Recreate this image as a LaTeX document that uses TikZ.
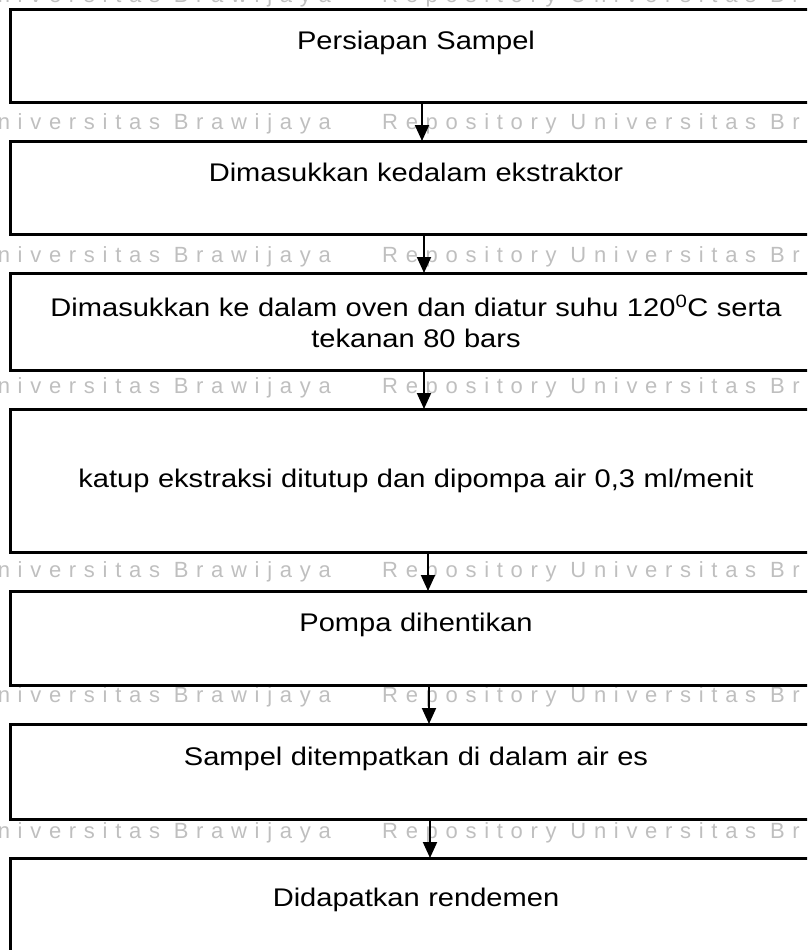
\documentclass[tikz,border=0pt]{standalone}
\usepackage{fontspec}
\setmainfont{Liberation Sans}[FakeStretch=1.14]
\newfontfamily\markfont{Liberation Sans}[LetterSpace=35]
\usetikzlibrary{arrows.meta,positioning}

\tikzset{
  stepbox/.style={draw, line width=3pt, fill=white, outer sep=0pt, inner sep=0pt,
    minimum width=812pt, text width=790pt, align=center,
    font=\fontsize{25.5}{31}\selectfont},
  flow/.style={-{Triangle[length=16pt,width=14pt]}, line width=2pt},
  wmark/.style={text=black!25, inner sep=0pt, font=\markfont\fontsize{22}{26}\selectfont}
}

\begin{document}
\begin{tikzpicture}[x=1pt, y=1pt, node distance=39pt]
\useasboundingbox (0,0) rectangle (807,-950);
\clip (0,0) rectangle (807,-950);
% watermark rows
\foreach \yb [count=\i] in {3,129,262,393,577,702,838}{
  \node[wmark, anchor=base east] (wml\i) at (331,-\yb) {Universitas Brawijaya};
  \node[wmark, anchor=base west] (wmr\i) at (382,-\yb) {Repository Universitas Brawijaya};
}
% steps
\node[stepbox, minimum height=92pt, anchor=north] (prep) at (416,-10) {Persiapan Sampel\\ \mbox{}};
\node[stepbox, minimum height=93pt, below=of prep] (load) {Dimasukkan kedalam ekstraktor\\ \mbox{}};
\node[stepbox, minimum height=97pt, below=of load] (oven) {Dimasukkan ke dalam oven dan diatur suhu 120\textsuperscript{0}C serta\\ tekanan 80 bars};
\node[stepbox, minimum height=143pt, below=of oven] (pump) {katup ekstraksi ditutup dan dipompa air 0,3 ml/menit};
\node[stepbox, minimum height=94pt, below=of pump] (stop) {Pompa dihentikan\\ \mbox{}};
\node[stepbox, minimum height=95pt, below=of stop] (ice) {Sampel ditempatkan di dalam air es\\ \mbox{}};
\node[stepbox, minimum height=140pt, below=of ice] (yield) {Didapatkan rendemen\\ \mbox{}\\ \mbox{}};
% arrows
\path[flow]
  ([xshift=6pt]prep.south) edge ([xshift=6pt]load.north)
  ([xshift=8pt]load.south) edge ([xshift=8pt]oven.north)
  ([xshift=8pt]oven.south) edge ([xshift=8pt]pump.north)
  ([xshift=12pt]pump.south) edge ([xshift=12pt]stop.north)
  ([xshift=13pt]stop.south) edge ([xshift=13pt]ice.north)
  ([xshift=14pt]ice.south) edge ([xshift=14pt]yield.north);
\end{tikzpicture}
\end{document}
